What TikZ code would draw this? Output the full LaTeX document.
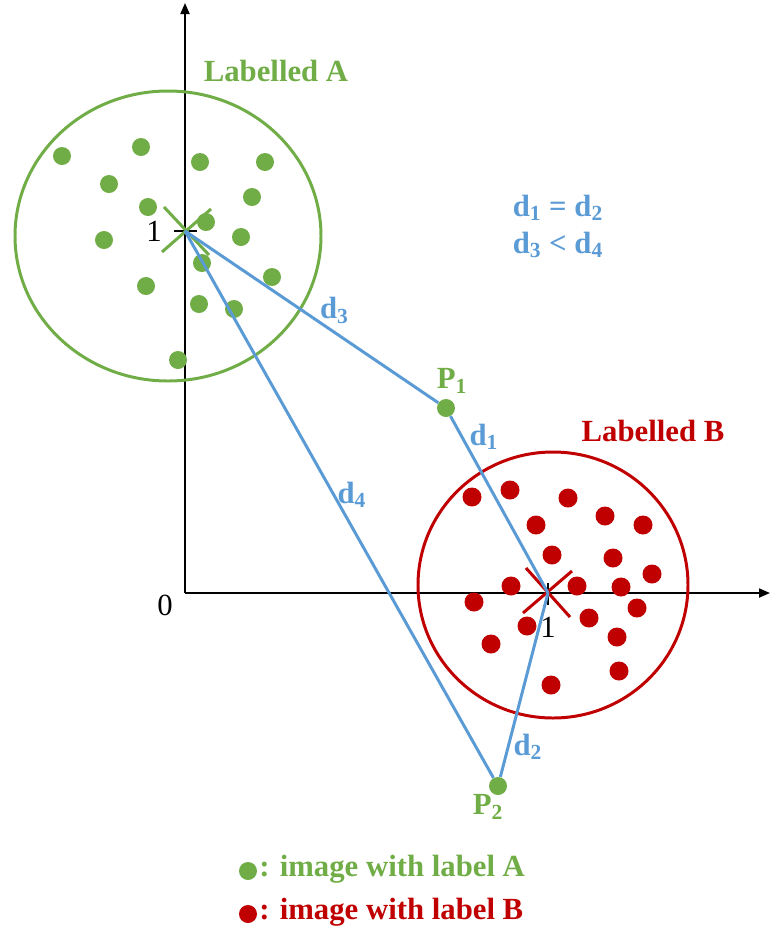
\documentclass[tikz,border=0pt]{standalone}
\usepackage{fontspec}
\setmainfont{Liberation Serif}
\usetikzlibrary{arrows.meta,positioning}
\definecolor{grnA}{HTML}{70AD47}
\definecolor{redB}{HTML}{C00000}
\definecolor{dist}{HTML}{5B9BD5}
\newcommand{\dd}[1]{d\textsubscript{#1}}

\begin{document}
\begin{tikzpicture}[x=0.02cm,y=-0.02cm,
  pt/.style={circle,inner sep=0pt,minimum size=0.36cm},
  big/.style={font=\fontsize{17.5}{20}\selectfont\bfseries},
  num/.style={font=\fontsize{17.5}{20}\selectfont},
  ring/.style={line width=1.7pt},
  dline/.style={draw=dist,line width=1.7pt},
  axis/.style={-{Triangle[length=2.2mm,width=1.8mm]},line width=1pt}]
\useasboundingbox (0,0) rectangle (770,934);
% axes
\coordinate (o) at (185,593);
\coordinate (ytop) at (185,3);
\coordinate (xend) at (770,593);
\draw[axis] (o) -- (ytop);
\draw[axis] (o) -- (xend);
\node[num] (zero) at (165,605) {0};
\coordinate (cA) at (185,231);
\coordinate (cB) at (548,593);
\draw[line width=1pt] (174,231) -- (197,231);
\draw[line width=1pt] (548,583) -- (548,605);
\node[num] (oneA) at (154,231) {1};
\node[num] (oneB) at (548,627) {1};
% clusters
\draw[grnA,ring] (168,236) ellipse (153 and 145);
\draw[redB,ring] (553,585) ellipse (135 and 133);
\foreach \x/\y in {62/156,141/147,200/162,265/162,109/184,252/197,148/207,206/222,
  104/240,241/237,202/263,272/277,146/286,199/304,234/309,178/360}
  \fill[grnA] (\x,\y) circle (9);
\foreach \x/\y in {472/497,510/490,568/498,605/516,643/525,536/525,552/555,613/558,
  652/574,511/586,577/586,621/587,474/602,637/608,589/618,527/626,617/637,491/644,
  619/671,551/685}
  \fill[redB] (\x,\y) circle (9.5);
\draw[grnA,ring] (164,207) -- (209,255) (162,252) -- (211,209);
\draw[redB,ring] (526,568) -- (570,617) (523,613) -- (572,571);
\node[big,text=grnA] (labA) at (276,71) {Labelled A};
\node[big,text=redB] (labB) at (653,431) {Labelled B};
% test points
\node[pt,fill=grnA] (p1) at (446,408) {};
\node[pt,fill=grnA] (p2) at (498,786) {};
\node[big,text=grnA] at (452,381) {P\textsubscript{1}};
\node[big,text=grnA] at (488,807) {P\textsubscript{2}};
\draw[dline] (cA) -- (p1) node[big,text=dist,pos=0.59,above=1pt] {\dd{3}};
\draw[dline] (p1) -- (cB);
\draw[dline] (cB) -- (p2);
\draw[dline] (cA) -- (p2);
\node[big,text=dist] (d1) at (484,437) {\dd{1}};
\node[big,text=dist] (d2) at (528,747) {\dd{2}};
\node[big,text=dist] (d4) at (352,495) {\dd{4}};
\node[big,text=dist] (eq1) at (558,208) {\dd{1} = \dd{2}};
\node[big,text=dist] (eq2) at (558,245) {\dd{3} < \dd{4}};
% legend
\node[pt,fill=grnA] (legA) at (248,871) {};
\node[pt,fill=redB] (legB) at (248,914) {};
\node[big,text=grnA,anchor=west,inner xsep=0pt] at (259,869) {: image with label A};
\node[big,text=redB,anchor=west,inner xsep=0pt] at (259,912) {: image with label B};
\end{tikzpicture}
\end{document}
